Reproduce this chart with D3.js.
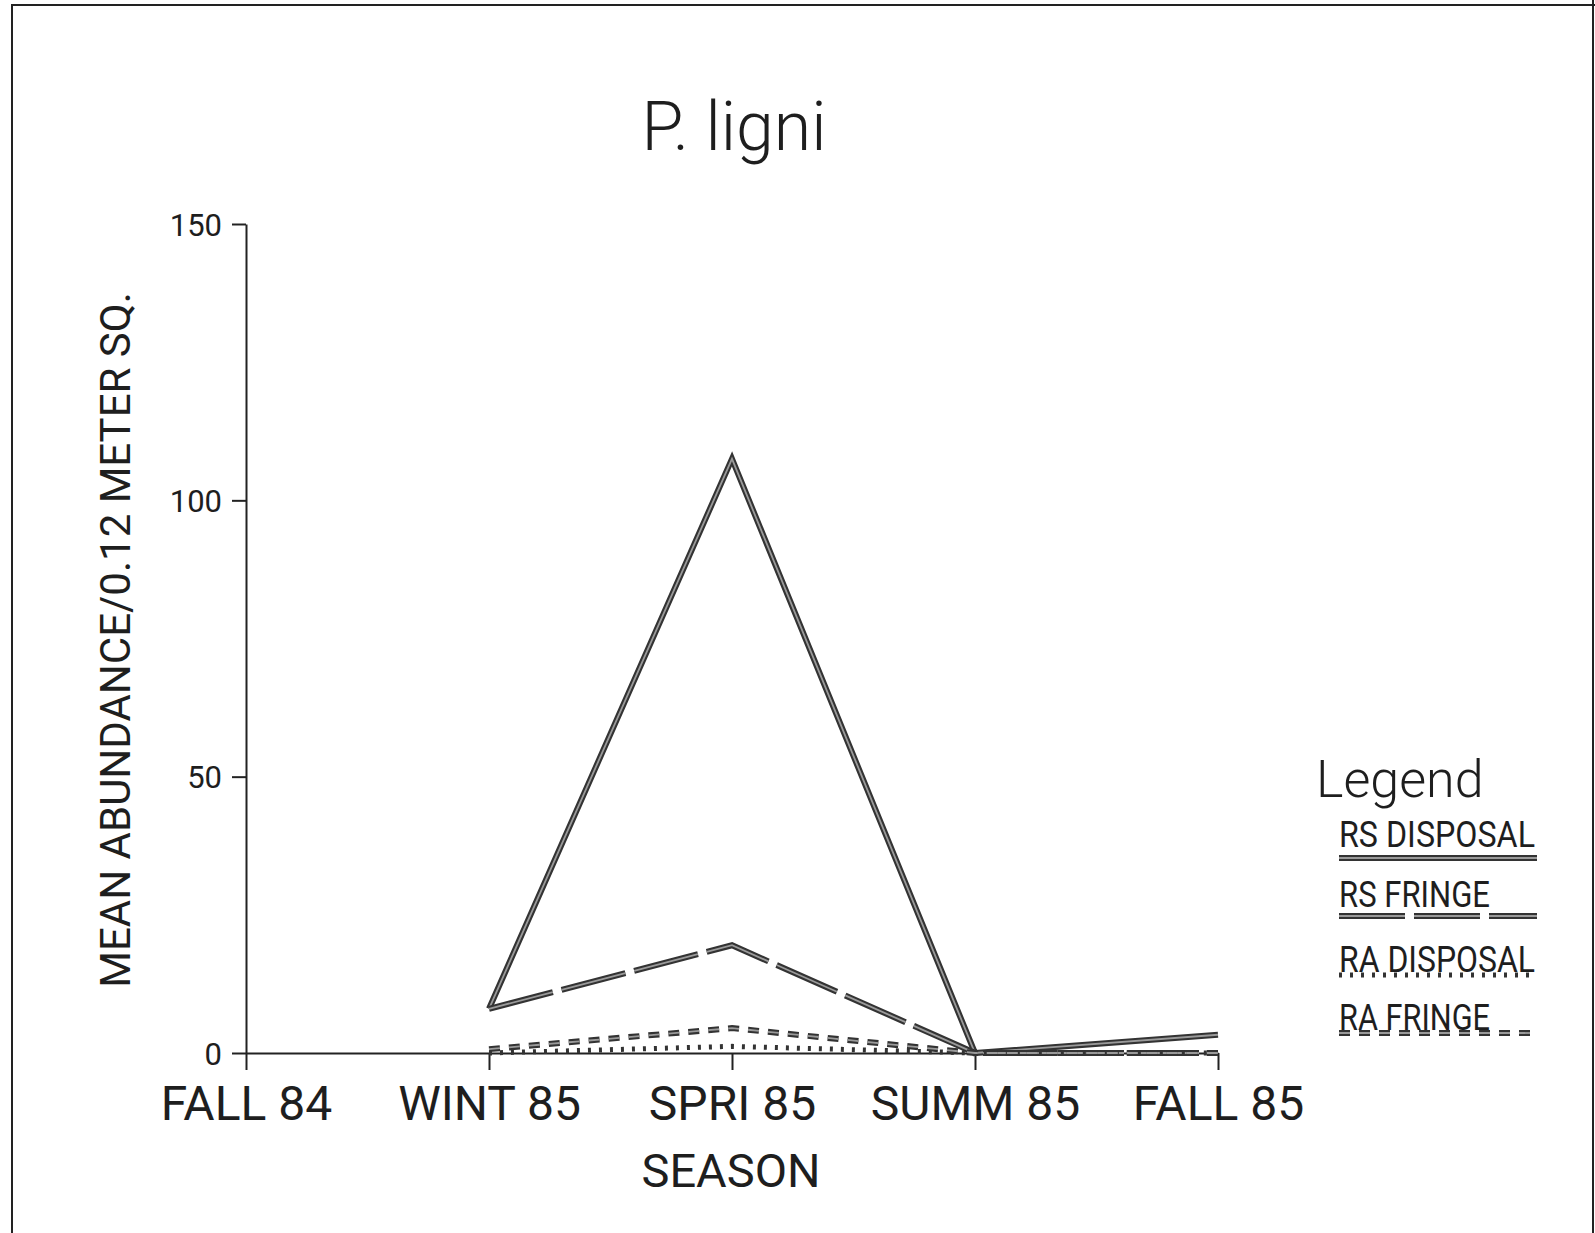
<!DOCTYPE html>
<html>
<head>
<meta charset="utf-8">
<script src="https://cdn.jsdelivr.net/npm/d3@7"></script>
<style>
  html, body { margin: 0; padding: 0; background: #fff; }
  svg { display: block; }
  text { font-family: Roboto, "DejaVu Sans", sans-serif; fill: #1e1e1e; }
</style>
</head>
<body>
<svg id="chart" width="1595" height="1233"></svg>
<script>
// ---- data ----
const seasons = ["FALL 84", "WINT 85", "SPRI 85", "SUMM 85", "FALL 85"];
const yTicks = [0, 50, 100, 150];
const rsDisposal = [null, 8, 107.5, 0, 3.3];
const rsFringe   = [null, 8, 19.5, 0, 0];
const raDisposal = [null, 0, 1.2, 0, 0];
const raFringe   = [null, 0.7, 4.5, 0, 0];
const seriesNames = ["RS DISPOSAL", "RS FRINGE", "RA DISPOSAL", "RA FRINGE"];

const seriesList = [
  { name: seriesNames[0], values: rsDisposal, dash: null, width: 6, inner: true },
  { name: seriesNames[1], values: rsFringe, dash: "66,9", width: 6, inner: true },
  { name: seriesNames[2], values: raDisposal, dash: "3,8", width: 5, inner: false },
  { name: seriesNames[3], values: raFringe, dash: "11,9", width: 6, inner: true }
];

const svg = d3.select("#chart");

// frame
svg.append("path")
  .attr("d", "M12,1233 L12,5 L1595,5")
  .attr("fill", "none").attr("stroke", "#222").attr("stroke-width", 2);
svg.append("line")
  .attr("x1", 1593).attr("x2", 1593).attr("y1", 0).attr("y2", 1233)
  .attr("stroke", "#222").attr("stroke-width", 2);

const x = d3.scalePoint().domain(seasons).range([246, 1218]);
const y = d3.scaleLinear().domain([0, 150]).range([1053, 224]);

// title
svg.append("text")
  .attr("x", 734).attr("y", 150)
  .attr("text-anchor", "middle")
  .attr("font-size", 68).attr("font-weight", 300)
  .text("P. ligni");

// y axis
const yAxis = svg.append("g")
  .attr("transform", "translate(246,0)")
  .call(d3.axisLeft(y).tickValues(yTicks).tickSize(14).tickSizeOuter(0).tickPadding(10));
yAxis.select(".domain").attr("stroke", "#222").attr("stroke-width", 2);
yAxis.selectAll(".tick line").attr("stroke", "#222").attr("stroke-width", 2);
yAxis.selectAll(".tick text")
  .attr("font-size", 31).attr("font-family", "Roboto, sans-serif").attr("fill", "#1e1e1e")
  .attr("dy", "0.36em");

// x axis
const xAxis = svg.append("g")
  .attr("transform", "translate(0,1053)")
  .call(d3.axisBottom(x).tickSize(17).tickSizeOuter(0));
xAxis.select(".domain").attr("stroke", "#222").attr("stroke-width", 2);
xAxis.selectAll(".tick line").attr("stroke", "#222").attr("stroke-width", 2);
xAxis.selectAll(".tick text")
  .attr("font-size", 48).attr("font-family", "Roboto, sans-serif").attr("fill", "#1e1e1e")
  .attr("y", 67).attr("dy", 0);

// axis titles
svg.append("text")
  .attr("x", 731).attr("y", 1187)
  .attr("text-anchor", "middle").attr("font-size", 47)
  .text("SEASON");
svg.append("text")
  .attr("transform", "translate(130,640) rotate(-90)")
  .attr("text-anchor", "middle").attr("font-size", 42)
  .text("MEAN ABUNDANCE/0.12 METER SQ.");

// lines
const line = d3.line()
  .defined(d => d.v !== null)
  .x(d => x(d.s))
  .y(d => y(d.v));

seriesList.forEach(s => {
  const pts = s.values.map((v, i) => ({ s: seasons[i], v: v }));
  const p = svg.append("path")
    .datum(pts)
    .attr("d", line)
    .attr("fill", "none")
    .attr("stroke", "#333")
    .attr("stroke-width", s.width)
    .attr("stroke-linejoin", "miter");
  if (s.dash) p.attr("stroke-dasharray", s.dash);
  if (s.inner) {
    const q = svg.append("path")
      .datum(pts)
      .attr("d", line)
      .attr("fill", "none")
      .attr("stroke", "#9a9a9a")
      .attr("stroke-width", 1.8);
    if (s.dash) q.attr("stroke-dasharray", s.dash);
  }
});

// legend
svg.append("text")
  .attr("x", 1316).attr("y", 797)
  .attr("font-size", 52).attr("font-weight", 300)
  .text("Legend");

const legendBase = [847, 907, 972, 1030];
const legendLen = [196, 151, 196, 151];
const legendLineY = [858, 916, 975, 1033];
seriesList.forEach((s, i) => {
  svg.append("text")
    .attr("x", 1339).attr("y", legendBase[i])
    .attr("font-size", 36)
    .attr("textLength", legendLen[i]).attr("lengthAdjust", "spacingAndGlyphs")
    .text(s.name);
  const l = svg.append("line")
    .attr("x1", 1339).attr("x2", 1537)
    .attr("y1", legendLineY[i]).attr("y2", legendLineY[i])
    .attr("stroke", "#333").attr("stroke-width", s.width);
  if (s.dash) l.attr("stroke-dasharray", s.dash);
  if (s.inner) {
    const q = svg.append("line")
      .attr("x1", 1339).attr("x2", 1537)
      .attr("y1", legendLineY[i]).attr("y2", legendLineY[i])
      .attr("stroke", "#9a9a9a").attr("stroke-width", 1.8);
    if (s.dash) q.attr("stroke-dasharray", s.dash);
  }
});
</script>
</body>
</html>
